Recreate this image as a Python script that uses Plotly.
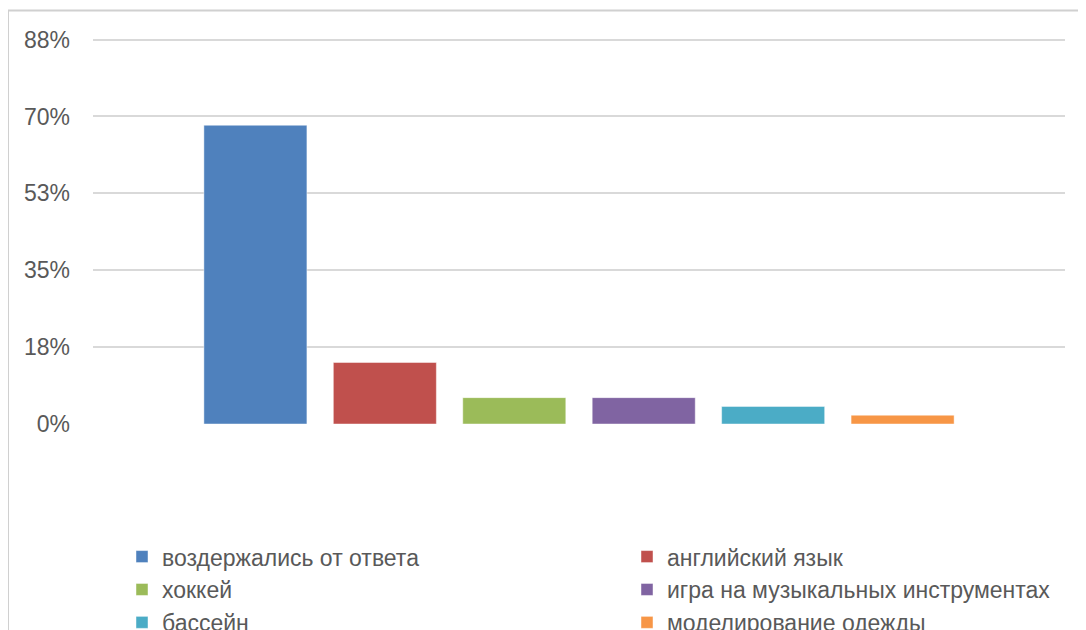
import plotly.graph_objects as go

series_names = [
    "воздержались от ответа",
    "английский язык",
    "хоккей",
    "игра на музыкальных инструментах",
    "бассейн",
    "моделирование одежды",
]
values = [68, 14, 6, 6, 4, 2]
colors = ["#4F81BD", "#C0504D", "#9BBB59", "#8064A2", "#4BACC6", "#F79646"]
category = [""]
tick_vals = [0, 17.5, 35, 52.5, 70, 87.5]
tick_text = ["0%", "18%", "35%", "53%", "70%", "88%"]

OFF = 8  # page body margin
W, H = 1086, 630
Y_TOP = 89.0
unit = 384 / 87.5
PLOT_L, PLOT_R, PLOT_B = 93, 1065, 424
PLOT_T = PLOT_B - unit * Y_TOP
ML = PLOT_L - OFF
MR = W - (PLOT_R - OFF)
MT = PLOT_T - OFF
MB = H - (PLOT_B - OFF)
PW = W - ML - MR
PH = H - MT - MB

fig = go.Figure()
for i, (name, v, c) in enumerate(zip(series_names, values, colors)):
    fig.add_trace(go.Bar(
        x=category, y=[v], name=name,
        legend="legend" if i % 2 == 0 else "legend2",
        marker=dict(color=c, line=dict(color="rgba(255,255,255,0.45)", width=1)),
    ))

def px_x(p):
    return (p - OFF - ML) / PW

def px_y(p):
    return (H - MB - (p - OFF)) / PH

fig.add_shape(type="rect", xref="paper", yref="paper",
              x0=px_x(8), x1=px_x(1110), y0=px_y(660), y1=px_y(11),
              line=dict(color="#d0d0d0", width=2), fillcolor="rgba(0,0,0,0)", layer="below")

legend_style = dict(
    orientation="v", xanchor="left", yanchor="top",
    font=dict(size=23, color="#595959"), traceorder="normal",
    bgcolor="rgba(0,0,0,0)",
)

fig.update_layout(
    width=W, height=H,
    margin=dict(l=ML, r=MR, t=MT, b=MB, autoexpand=False),
    paper_bgcolor="white", plot_bgcolor="white",
    barmode="group", bargap=0.201, bargroupgap=0.204,
    font=dict(family="Liberation Sans, Arial, sans-serif", size=23, color="#595959"),
    showlegend=True,
    legend=dict(x=px_x(122), y=px_y(535), **legend_style),
    legend2=dict(x=px_x(627), y=px_y(535), **legend_style),
    xaxis=dict(range=[-0.5, 0.5], showticklabels=False, showgrid=False,
               zeroline=False, showline=False, fixedrange=True),
    yaxis=dict(range=[0, Y_TOP], tickvals=tick_vals, ticktext=tick_text,
               showgrid=True, gridcolor="#d9d9d9", gridwidth=2,
               zeroline=False, showline=False, ticks="",
               ticklabelstandoff=22, fixedrange=True),
)

fig.write_html("out.html")
